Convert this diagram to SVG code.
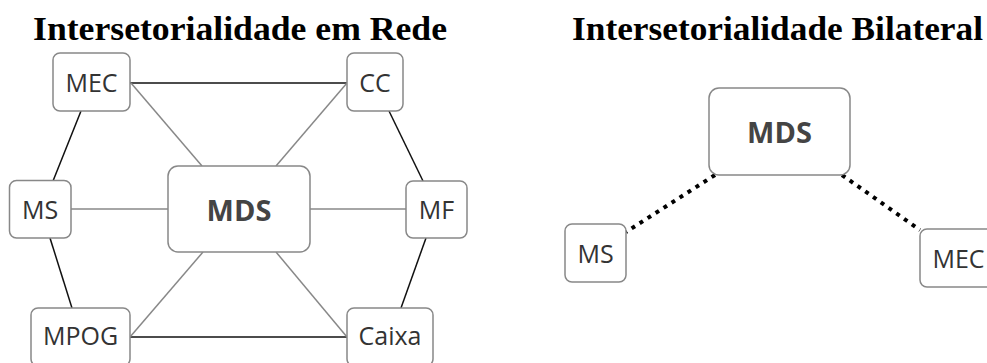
<svg xmlns="http://www.w3.org/2000/svg" width="987" height="363" viewBox="0 0 987 363">
<style>
.title{font-family:"Liberation Serif","DejaVu Serif",serif;font-weight:bold;font-size:33px;fill:#000}
.box{fill:#fff;stroke:#888;stroke-width:1.5}
.lbl{font-family:"Open Sans","Noto Sans",sans-serif;font-size:25px;fill:#333;text-anchor:middle}
.big{font-family:"Open Sans","Noto Sans",sans-serif;font-size:29px;font-weight:bold;fill:#444;text-anchor:middle}
.dark{stroke:#111;stroke-width:1.5;fill:none}
.grey{stroke:#888;stroke-width:1.5;fill:none}
.dot{stroke:#000;stroke-width:4;stroke-dasharray:4 5.5;fill:none}
</style>
<text class="title" x="33" y="40" textLength="414" lengthAdjust="spacingAndGlyphs">Intersetorialidade em Rede</text>
<text class="title" x="572" y="40" textLength="411" lengthAdjust="spacingAndGlyphs">Intersetorialidade Bilateral</text>
<g id="connectors">
<line class="dark" x1="130" y1="83" x2="347" y2="83"/>
<line class="dark" x1="81" y1="111" x2="53" y2="181"/>
<line class="dark" x1="50" y1="238" x2="72" y2="308"/>
<line class="dark" x1="389" y1="111" x2="423" y2="181"/>
<line class="dark" x1="426" y1="238" x2="401" y2="308"/>
<line class="dark" x1="130" y1="337" x2="347" y2="337"/>
<line class="grey" x1="131" y1="83" x2="202" y2="166"/>
<line class="grey" x1="347" y1="83" x2="276" y2="166"/>
<line class="grey" x1="71" y1="209" x2="168" y2="209"/>
<line class="grey" x1="310" y1="209" x2="406" y2="209"/>
<line class="grey" x1="203" y1="252" x2="130" y2="337"/>
<line class="grey" x1="276" y1="252" x2="347" y2="337"/>
<line class="dot" x1="715" y1="175" x2="626" y2="232"/>
<line class="dot" x1="842" y1="175" x2="920" y2="230"/>
</g>
<g id="n-mec"><rect class="box" x="53" y="53" width="77" height="58" rx="7"/><text class="lbl" x="91.5" y="92">MEC</text></g>
<g id="n-cc"><rect class="box" x="347" y="53" width="56" height="58" rx="7"/><text class="lbl" x="375" y="92">CC</text></g>
<g id="n-ms"><rect class="box" x="9.5" y="180.5" width="61.5" height="57.5" rx="7"/><text class="lbl" x="40" y="219">MS</text></g>
<g id="n-mf"><rect class="box" x="406" y="181" width="61" height="57" rx="7"/><text class="lbl" x="436.5" y="219">MF</text></g>
<g id="n-mds"><rect class="box" x="168" y="166" width="142" height="86" rx="10"/><text class="big" x="239" y="221">MDS</text></g>
<g id="n-mpog"><rect class="box" x="31" y="308" width="99" height="58" rx="7"/><text class="lbl" x="80.5" y="345">MPOG</text></g>
<g id="n-caixa"><rect class="box" x="347" y="308" width="86" height="58" rx="7"/><text class="lbl" x="390" y="345">Caixa</text></g>
<g id="n-mds2"><rect class="box" x="709" y="88" width="141" height="87" rx="10"/><text class="big" x="779.5" y="143">MDS</text></g>
<g id="n-ms2"><rect class="box" x="565" y="224" width="61" height="58" rx="7"/><text class="lbl" x="595.5" y="263">MS</text></g>
<g id="n-mec2"><rect class="box" x="920" y="229" width="77" height="58" rx="7"/><text class="lbl" x="958.5" y="268">MEC</text></g>
</svg>
